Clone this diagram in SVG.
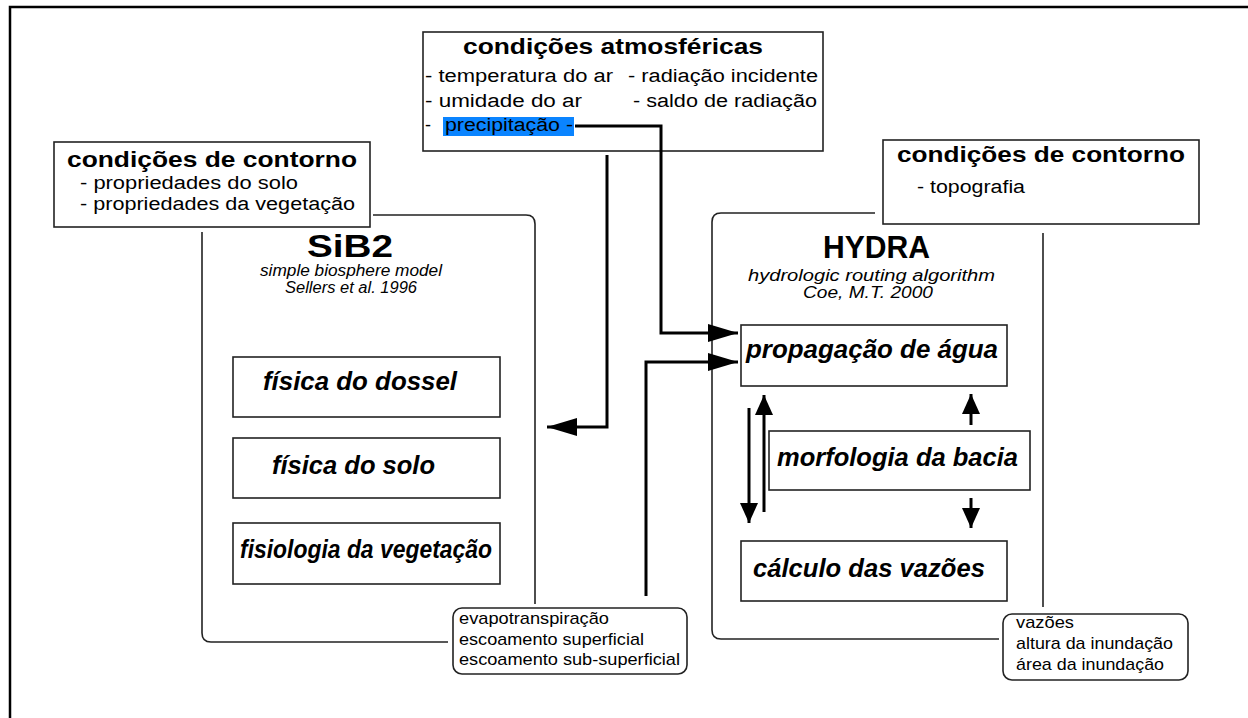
<svg xmlns="http://www.w3.org/2000/svg" width="1248" height="718" viewBox="0 0 1248 718">
<defs>
<marker id="big" markerUnits="userSpaceOnUse" markerWidth="30" markerHeight="18" refX="30" refY="9" orient="auto">
<path d="M0,0 L30,9 L0,18 Z" fill="#000"/>
</marker>
<marker id="small" markerUnits="userSpaceOnUse" markerWidth="20" markerHeight="18" refX="20" refY="9" orient="auto">
<path d="M0,0 L20,9 L0,18 Z" fill="#000"/>
</marker>
</defs>
<style>
.box{fill:#fff;stroke:#222;stroke-width:1.6}
.cont{fill:none;stroke:#222;stroke-width:1.6}
.rbox{fill:#fff;stroke:#222;stroke-width:1.6}
.t{font-family:"Liberation Sans",Arial,sans-serif;fill:#000}
.ttl{font-size:22px;font-weight:bold}
.item{font-size:18px}
.big{font-size:32px;font-weight:bold}
.sub{font-size:16px;font-style:italic}
.proc{font-size:25px;font-weight:bold;font-style:italic}
.out{font-size:17px}
.conn{fill:none;stroke:#000;stroke-width:3}
</style>
<rect width="1248" height="718" fill="#fff"/>
<path d="M10,718 V7 H1248" fill="none" stroke="#000" stroke-width="2.5"/>

<g id="sib2">
<path class="cont" d="M373,215 H526 Q535,215 535,224 V604 M202,232 V633 Q202,642 211,642 H448"/>
<text class="t big" x="307" y="257" textLength="86" lengthAdjust="spacingAndGlyphs">SiB2</text>
<text class="t sub" x="260" y="276" textLength="182" lengthAdjust="spacingAndGlyphs">simple biosphere model</text>
<text class="t sub" x="285" y="293" textLength="132" lengthAdjust="spacingAndGlyphs">Sellers et al. 1996</text>
</g>

<g id="hydra">
<path class="cont" d="M875,213 H721 Q712,213 712,222 V630 Q712,639 721,639 H999 M1043,233 V607"/>
<text class="t big" x="823" y="258" textLength="107" lengthAdjust="spacingAndGlyphs">HYDRA</text>
<text class="t sub" x="748" y="281" textLength="247" lengthAdjust="spacingAndGlyphs">hydrologic routing algorithm</text>
<text class="t sub" x="803" y="298" textLength="130" lengthAdjust="spacingAndGlyphs">Coe, M.T. 2000</text>
</g>

<g id="atm">
<rect class="box" x="423" y="32" width="400" height="119"/>
<text class="t ttl" x="463" y="54" textLength="300" lengthAdjust="spacingAndGlyphs">condições atmosféricas</text>
<text class="t item" x="425" y="82" textLength="188" lengthAdjust="spacingAndGlyphs">- temperatura do ar</text>
<text class="t item" x="628" y="82" textLength="190" lengthAdjust="spacingAndGlyphs">- radiação incidente</text>
<text class="t item" x="425" y="107" textLength="157" lengthAdjust="spacingAndGlyphs">- umidade do ar</text>
<text class="t item" x="633" y="107" textLength="184" lengthAdjust="spacingAndGlyphs">- saldo de radiação</text>
<rect x="443" y="117" width="131" height="19" fill="#0a84ff"/>
<text class="t item" x="425" y="131">-</text>
<text class="t item" x="445" y="131" textLength="128" lengthAdjust="spacingAndGlyphs" fill="#00104a">precipitação -</text>
</g>

<g id="contorno-solo">
<rect class="box" x="54" y="142" width="316" height="85"/>
<text class="t ttl" x="67" y="167" textLength="290" lengthAdjust="spacingAndGlyphs">condições de contorno</text>
<text class="t item" x="80" y="189" textLength="218" lengthAdjust="spacingAndGlyphs">- propriedades do solo</text>
<text class="t item" x="80" y="210" textLength="275" lengthAdjust="spacingAndGlyphs">- propriedades da vegetação</text>
</g>

<g id="contorno-topo">
<rect class="box" x="883" y="140" width="316" height="84"/>
<text class="t ttl" x="897" y="162" textLength="288" lengthAdjust="spacingAndGlyphs">condições de contorno</text>
<text class="t item" x="917" y="193" textLength="108" lengthAdjust="spacingAndGlyphs">- topografia</text>
</g>

<g id="dossel">
<rect class="box" x="233" y="357" width="267" height="60"/>
<text class="t proc" x="263" y="390" textLength="194" lengthAdjust="spacingAndGlyphs">física do dossel</text>
</g>
<g id="solo">
<rect class="box" x="233" y="438" width="267" height="60"/>
<text class="t proc" x="272" y="474" textLength="163" lengthAdjust="spacingAndGlyphs">física do solo</text>
</g>
<g id="fisiologia">
<rect class="box" x="233" y="523" width="267" height="61"/>
<text class="t proc" x="240" y="558" textLength="252" lengthAdjust="spacingAndGlyphs">fisiologia da vegetação</text>
</g>

<g id="propagacao">
<rect class="box" x="741" y="325" width="266" height="61"/>
<text class="t proc" x="746" y="358" textLength="252" lengthAdjust="spacingAndGlyphs">propagação de água</text>
</g>
<g id="morfologia">
<rect class="box" x="769" y="431" width="261" height="59"/>
<text class="t proc" x="777" y="466" textLength="241" lengthAdjust="spacingAndGlyphs">morfologia da bacia</text>
</g>
<g id="calculo">
<rect class="box" x="741" y="541" width="266" height="60"/>
<text class="t proc" x="753" y="577" textLength="232" lengthAdjust="spacingAndGlyphs">cálculo das vazões</text>
</g>

<g id="saida-sib2">
<rect class="rbox" x="453" y="608" width="234" height="66" rx="9"/>
<text class="t out" x="459" y="624" textLength="150" lengthAdjust="spacingAndGlyphs">evapotranspiração</text>
<text class="t out" x="459" y="645" textLength="185" lengthAdjust="spacingAndGlyphs">escoamento superficial</text>
<text class="t out" x="459" y="665" textLength="221" lengthAdjust="spacingAndGlyphs">escoamento sub-superficial</text>
</g>
<g id="saida-hydra">
<rect class="rbox" x="1003" y="614" width="185" height="66" rx="9"/>
<text class="t out" x="1016" y="628" textLength="58" lengthAdjust="spacingAndGlyphs">vazões</text>
<text class="t out" x="1016" y="649" textLength="157" lengthAdjust="spacingAndGlyphs">altura da inundação</text>
<text class="t out" x="1016" y="670" textLength="148" lengthAdjust="spacingAndGlyphs">área da inundação</text>
</g>

<g id="connectors">
<path class="conn" d="M607,155 V427 H547" marker-end="url(#big)"/>
<path class="conn" d="M575,126 H661 V333 H738" marker-end="url(#big)"/>
<path class="conn" d="M646,596 V362 H738" marker-end="url(#big)"/>
<path class="conn" d="M749,408 V523" marker-end="url(#small)"/>
<path class="conn" d="M764,512 V395" marker-end="url(#small)"/>
<path class="conn" d="M971,425 V394" marker-end="url(#small)"/>
<path class="conn" d="M971,498 V528" marker-end="url(#small)"/>
</g>
</svg>
